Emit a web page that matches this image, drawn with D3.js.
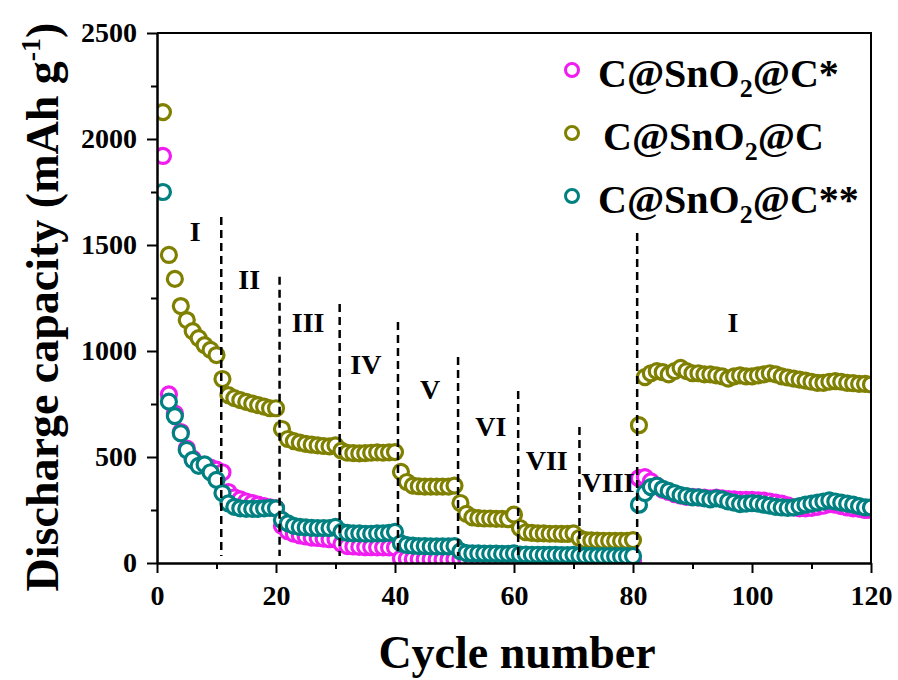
<!DOCTYPE html>
<html>
<head>
<meta charset="utf-8">
<script src="https://cdn.jsdelivr.net/npm/d3@7"></script>
<style>
  body { margin: 0; background: #fff; }
  svg { display: block; }
</style>
</head>
<body>
<div class="chart"></div>
<script>
// discharge capacity (mAh g-1) for cycles 1..120
const cycles = d3.range(1, 121);

const capStar = [
  1920, 795, 705, 618, 540, 492, 465, 462, 450, 440,
  428, 335, 310, 300, 290, 282, 275, 268, 262, 258,
  175, 150, 138, 130, 125, 120, 118, 115, 112, 112,
  90, 80, 78, 76, 75, 75, 74, 74, 73, 73,
  22, 20, 19, 18, 18, 18, 17, 17, 17, 18,
  18, 17, 17, 16, 16, 16, 16, 15, 15, 16,
  15, 15, 14, 14, 14, 14, 13, 13, 13, 14,
  13, 12, 12, 12, 12, 11, 11, 11, 11, 12,
  400, 405, 385, 365, 345, 335, 325, 318, 312, 312,
  310, 308, 305, 308, 305, 302, 300, 298, 298, 298,
  296, 294, 290, 285, 280, 272, 262, 258, 258, 260,
  265, 270, 278, 275, 268, 262, 258, 255, 250, 250
];

const capPlain = [
  2127, 1453, 1340, 1212, 1146, 1094, 1061, 1028, 1005, 981,
  868, 792, 778, 768, 760, 752, 745, 738, 730, 730,
  632, 585, 575, 568, 562, 558, 555, 552, 550, 555,
  530, 520, 518, 517, 518, 520, 522, 520, 522, 523,
  430, 382, 365, 362, 360, 360, 360, 360, 360, 365,
  283, 232, 215, 212, 210, 210, 208, 208, 207, 228,
  165, 145, 142, 140, 140, 138, 138, 137, 137, 140,
  118, 108, 107, 106, 105, 105, 104, 104, 104, 108,
  650, 877, 895, 905, 900, 890, 905, 920, 905, 895,
  895, 890, 890, 885, 880, 870, 880, 885, 880, 880,
  885, 890, 895, 890, 880, 875, 870, 865, 860, 855,
  850, 850, 855, 858, 855, 850, 848, 845, 845, 842
];

const capDouble = [
  1750, 761, 693, 612, 533, 486, 458, 465, 428, 392,
  330, 281, 265, 258, 255, 255, 255, 258, 260, 258,
  203, 187, 175, 170, 168, 166, 165, 165, 165, 170,
  147, 142, 140, 140, 138, 138, 140, 140, 142, 147,
  93, 85, 82, 80, 80, 78, 78, 78, 78, 80,
  55, 47, 45, 45, 44, 44, 44, 43, 43, 45,
  40, 40, 39, 39, 38, 38, 38, 37, 37, 38,
  35, 34, 34, 33, 33, 33, 32, 32, 32, 33,
  275, 330, 358, 365, 350, 340, 330, 320, 315, 310,
  310, 305, 300, 305, 300, 290, 285, 278, 280, 282,
  280, 275, 270, 265, 262, 260, 262, 268, 275, 280,
  285, 290, 295, 290, 285, 280, 275, 268, 262, 262
];

const seriesNames = ["C@SnO2@C*", "C@SnO2@C", "C@SnO2@C**"];
const seriesColors = ["#f01cf0", "#808000", "#008080"];

// rate stage boundaries (cycle) and where each dashed line starts (capacity)
const stageBreaks = [10.8, 20.6, 30.7, 40.5, 50.6, 60.7, 71.0, 80.7];
const stageTops = [1632, 1350, 1222, 1137, 972, 811, 642, 1557];

// stage labels anchored at (cycle, capacity)
const stageLabels = ["I", "II", "III", "IV", "V", "VI", "VII", "VIII", "I"];
const stageLabelCycle = [6.4, 15.5, 25.4, 35.1, 45.9, 56.1, 65.5, 75.8, 96.8];
const stageLabelCap = [1519, 1292, 1090, 892, 774, 599, 439, 335, 1090];

const xTicks = [0, 20, 40, 60, 80, 100, 120];
const xMinor = [10, 30, 50, 70, 90, 110];
const yTicks = [0, 500, 1000, 1500, 2000, 2500];
const yMinor = [250, 750, 1250, 1750, 2250];

const width = 898;
const height = 680;
const margin = { top: 33, right: 27, bottom: 117, left: 157 };
const innerWidth = width - margin.left - margin.right;
const innerHeight = height - margin.top - margin.bottom;
const font = "'Liberation Serif', 'Times New Roman', serif";

const svg = d3.select(".chart")
  .append("svg")
  .attr("width", width)
  .attr("height", height);

const g = svg.append("g")
  .attr("transform", `translate(${margin.left},${margin.top})`);

const x = d3.scaleLinear().domain([0, 120]).range([0, innerWidth]);
const y = d3.scaleLinear().domain([0, 2500]).range([innerHeight, 0]);

svg.append("defs").append("clipPath")
  .attr("id", "plot-clip")
  .append("rect")
  .attr("width", innerWidth)
  .attr("height", innerHeight);

// points: * first, plain, then ** on top
const allSeries = [capStar, capPlain, capDouble];
const points = g.append("g").attr("clip-path", "url(#plot-clip)");
allSeries.forEach((values, i) => {
  points.append("g")
    .selectAll("circle")
    .data(cycles.map((c, j) => ({ c, v: values[j] })))
    .enter()
    .append("circle")
    .attr("cx", d => x(d.c))
    .attr("cy", d => y(d.v))
    .attr("r", 7.5)
    .attr("fill", "#fff")
    .attr("stroke", seriesColors[i])
    .attr("stroke-width", 3.2);
});

// dashed stage separators
g.append("g")
  .selectAll("line")
  .data(stageBreaks.map((c, i) => ({ c, top: stageTops[i] })))
  .enter()
  .append("line")
  .attr("x1", d => x(d.c))
  .attr("x2", d => x(d.c))
  .attr("y1", d => y(d.top))
  .attr("y2", innerHeight - 7)
  .attr("stroke", "#000")
  .attr("stroke-width", 2.5)
  .attr("stroke-dasharray", "8,5");

g.append("g")
  .selectAll("text")
  .data(stageLabels.map((t, i) => ({ t, c: stageLabelCycle[i], v: stageLabelCap[i] })))
  .enter()
  .append("text")
  .attr("x", d => x(d.c))
  .attr("y", d => y(d.v))
  .attr("text-anchor", "middle")
  .attr("font-family", font)
  .attr("font-weight", "bold")
  .attr("font-size", 28)
  .text(d => d.t);

// axes
const styleAxis = sel => {
  sel.attr("font-family", font).attr("font-size", 28).attr("font-weight", "bold");
  sel.select(".domain").attr("stroke-width", 2);
  sel.selectAll(".tick line").attr("stroke-width", 2);
  sel.selectAll(".tick text").attr("fill", "#000");
};
// minor ticks carry no labels
const dropLabels = sel => sel.selectAll(".tick text").remove();

g.append("g")
  .attr("transform", `translate(0,${innerHeight})`)
  .call(d3.axisBottom(x).tickValues(xTicks).tickSize(10).tickSizeOuter(0)
    .tickPadding(12).tickFormat(d3.format("d")))
  .call(styleAxis);

g.append("g")
  .attr("transform", `translate(0,${innerHeight})`)
  .call(d3.axisBottom(x).tickValues(xMinor).tickSize(6).tickSizeOuter(0))
  .call(styleAxis)
  .call(dropLabels);

g.append("g")
  .call(d3.axisLeft(y).tickValues(yTicks).tickSize(10).tickSizeOuter(0)
    .tickPadding(10).tickFormat(d3.format("d")))
  .call(styleAxis);

g.append("g")
  .call(d3.axisLeft(y).tickValues(yMinor).tickSize(6).tickSizeOuter(0))
  .call(styleAxis)
  .call(dropLabels);

// top and right frame
g.append("path")
  .attr("d", `M0,0H${innerWidth}V${innerHeight}`)
  .attr("fill", "none")
  .attr("stroke", "#000")
  .attr("stroke-width", 2);

// axis titles
svg.append("text")
  .attr("x", 517)
  .attr("y", 668)
  .attr("text-anchor", "middle")
  .attr("font-family", font)
  .attr("font-weight", "bold")
  .attr("font-size", 46)
  .text("Cycle number");

const yTitle = svg.append("text")
  .attr("transform", "translate(58,307) rotate(-90)")
  .attr("text-anchor", "middle")
  .attr("font-family", font)
  .attr("font-weight", "bold")
  .attr("font-size", 46);
yTitle.append("tspan").text("Discharge capacity (mAh g");
yTitle.append("tspan").attr("font-size", 28).attr("dy", -18).text("-1");
yTitle.append("tspan").attr("dy", 18).text(")");

// legend
const legend = svg.append("g").attr("transform", "translate(572,70)");
seriesNames.forEach((name, i) => {
  const row = legend.append("g").attr("transform", `translate(0,${i * 63})`);
  row.append("circle")
    .attr("r", 6.5)
    .attr("fill", "#fff")
    .attr("stroke", seriesColors[i])
    .attr("stroke-width", 3);
  const t = row.append("text")
    .attr("x", i === 1 ? 31 : 26)
    .attr("y", 17)
    .attr("font-family", font)
    .attr("font-weight", "bold")
    .attr("font-size", 40);
  const parts = name.split("2");
  t.append("tspan").text(parts[0]);
  t.append("tspan").attr("font-size", 26).attr("dy", 10).text("2");
  t.append("tspan").attr("dy", -10).text(parts[1]);
});
</script>
</body>
</html>
